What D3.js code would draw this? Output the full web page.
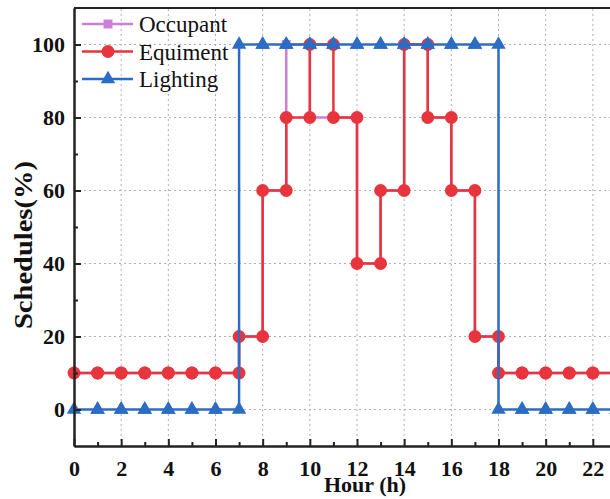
<!DOCTYPE html>
<html>
<head>
<meta charset="utf-8">
<script src="https://cdn.jsdelivr.net/npm/d3@7"></script>
<style>
  body { margin: 0; background: #fff; }
  svg { display: block; }
  .tick text { font-family: "Liberation Serif", "Times New Roman", serif; font-weight: bold; }
</style>
</head>
<body>
<svg width="610" height="499"></svg>
<script>
// hourly schedule values (%), hour 0..23
const hours = d3.range(0, 24);
const occupant  = [10,10,10,10,10,10,10,20,60,100,80,80,40,60,100,80,60,20,10,10,10,10,10,10];
const equipment = [10,10,10,10,10,10,10,20,60,80,100,80,40,60,100,80,60,20,10,10,10,10,10,10];
const lighting  = [0,0,0,0,0,0,0,100,100,100,100,100,100,100,100,100,100,100,0,0,0,0,0,0];
const xTicks = [0, 2, 4, 6, 8, 10, 12, 14, 16, 18, 20, 22];
const yTicks = [0, 20, 40, 60, 80, 100];

const svg = d3.select("svg");

const x = d3.scaleLinear().domain([0, 24]).range([74, 640]);
const y = d3.scaleLinear().domain([-10, 110]).range([446, 8]);

// grid
svg.append("g").selectAll("line").data(xTicks.slice(1)).enter().append("line")
  .attr("x1", d => x(d)).attr("x2", d => x(d))
  .attr("y1", y(-10)).attr("y2", y(110))
  .attr("stroke", "#b0b0b0").attr("stroke-width", 1).attr("stroke-dasharray", "2,3");
svg.append("g").selectAll("line").data(yTicks).enter().append("line")
  .attr("x1", x(0)).attr("x2", x(24))
  .attr("y1", d => y(d)).attr("y2", d => y(d))
  .attr("stroke", "#b0b0b0").attr("stroke-width", 1).attr("stroke-dasharray", "2,3");

// each hour is drawn as a flat segment with a marker at both ends
function segs(vals) {
  const pts = [];
  vals.forEach((v, i) => { pts.push([hours[i], v]); pts.push([hours[i] + 1, v]); });
  return pts;
}

const line = d3.line().x(d => x(d[0])).y(d => y(d[1]));

const series = [
  { name: "Occupant", vals: occupant, color: "#cc7fd6", shape: d3.symbolSquare, size: 80 },
  { name: "Equiment", vals: equipment, color: "#e8353d", shape: d3.symbolCircle, size: 130 },
  { name: "Lighting", vals: lighting, color: "#2c6cc4", shape: d3.symbolTriangle, size: 90 }
];

const plot = svg.append("g");
series.forEach(s => {
  const pts = segs(s.vals);
  plot.append("path")
    .attr("d", line(pts))
    .attr("fill", "none")
    .attr("stroke", s.color)
    .attr("stroke-width", 2.5);
  plot.append("g").selectAll("path").data(pts).enter().append("path")
    .attr("transform", d => `translate(${x(d[0])},${y(d[1])})`)
    .attr("d", d3.symbol().type(s.shape).size(s.size))
    .attr("fill", s.color);
});

// axes, ticks point inward
svg.append("g")
  .attr("transform", `translate(0,${y(-10)})`)
  .call(d3.axisBottom(x).tickValues(xTicks).tickSize(-7).tickPadding(14).tickSizeOuter(0));
svg.append("g")
  .attr("transform", `translate(0,${y(-10)})`)
  .call(d3.axisBottom(x).tickValues(d3.range(1, 24, 2)).tickSize(-4).tickFormat("").tickSizeOuter(0));
svg.append("g")
  .attr("transform", `translate(${x(0)},0)`)
  .call(d3.axisLeft(y).tickValues(yTicks).tickSize(-7).tickPadding(9).tickSizeOuter(0));
svg.append("g")
  .attr("transform", `translate(${x(0)},0)`)
  .call(d3.axisLeft(y).tickValues(d3.range(10, 110, 20)).tickSize(-4).tickFormat("").tickSizeOuter(0));

svg.selectAll(".tick text").attr("font-size", 22).attr("fill", "#111");
svg.selectAll(".domain, .tick line").attr("stroke", "#222").attr("stroke-width", 2);

// top frame
svg.append("line")
  .attr("x1", x(0)).attr("x2", 610)
  .attr("y1", y(110)).attr("y2", y(110))
  .attr("stroke", "#222").attr("stroke-width", 2);

// axis titles
svg.append("text")
  .attr("x", 365).attr("y", 492)
  .attr("text-anchor", "middle")
  .attr("font-family", "Liberation Serif, serif")
  .attr("font-weight", "bold").attr("font-size", 22)
  .attr("fill", "#111")
  .text("Hour (h)");
svg.append("text")
  .attr("transform", "translate(32,245) rotate(-90)")
  .attr("text-anchor", "middle")
  .attr("font-family", "Liberation Serif, serif")
  .attr("font-weight", "bold").attr("font-size", 25)
  .attr("textLength", 168).attr("lengthAdjust", "spacingAndGlyphs")
  .attr("fill", "#111")
  .text("Schedules(%)");

// legend
const legend = svg.append("g");
series.forEach((s, i) => {
  const ly = 24 + i * 27.5;
  legend.append("line")
    .attr("x1", 82).attr("x2", 133).attr("y1", ly).attr("y2", ly)
    .attr("stroke", s.color).attr("stroke-width", 2.5);
  legend.append("path")
    .attr("transform", `translate(108,${ly})`)
    .attr("d", d3.symbol().type(s.shape).size(s.size))
    .attr("fill", s.color);
  legend.append("text")
    .attr("x", 139).attr("y", ly + 8)
    .attr("font-family", "Liberation Serif, serif")
    .attr("font-size", 23).attr("fill", "#111")
    .text(s.name);
});
</script>
</body>
</html>
